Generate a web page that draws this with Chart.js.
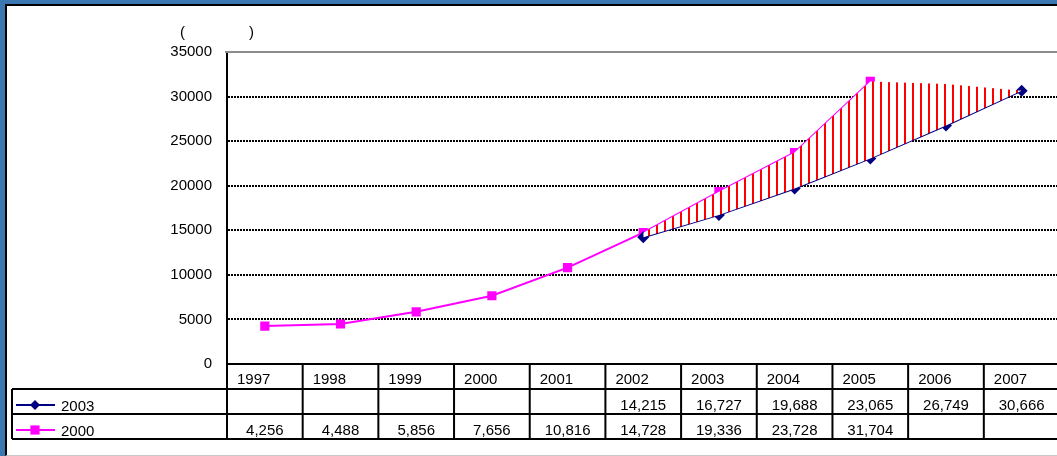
<!DOCTYPE html>
<html>
<head>
<meta charset="utf-8">
<script src="https://cdn.jsdelivr.net/npm/chart.js@4"></script>
<style>
  html, body { margin: 0; padding: 0; }
  body { width: 1057px; height: 456px; overflow: hidden; background: #3b77b1; position: relative; }
  #frame { position: absolute; left: 5px; top: 4px; width: 1060px; height: 449px; background: #fff;
           border-left: 2px solid #000; border-top: 2px solid #000; border-bottom: 1px solid #c8c8c8; }
  #c { position: absolute; left: 0; top: 0; }
</style>
</head>
<body>
<div id="frame"></div>
<canvas id="c" width="1066" height="456"></canvas>
<script>
const years = ['1997', '1998', '1999', '2000', '2001', '2002', '2003', '2004', '2005', '2006', '2007'];
const series2003 = [null, null, null, null, null, 14215, 16727, 19688, 23065, 26749, 30666];
const series2000 = [4256, 4488, 5856, 7656, 10816, 14728, 19336, 23728, 31704, null, null];
const hatchTop = [null, null, null, null, null, 14728, 19336, 23728, 31704, 31400, 30666];
const yTicks = [0, 5000, 10000, 15000, 20000, 25000, 30000, 35000];

const FONT = 'Liberation Sans, Arial, sans-serif';
const NAVY = '#000080';
const MAGENTA = '#ff00ff';

// white + red vertical stripes
let pc = document.createElement('canvas');
pc.width = 8; pc.height = 8;
let pctx = pc.getContext('2d');
pctx.fillStyle = '#fff';
pctx.fillRect(0, 0, 8, 8);
pctx.fillStyle = '#ff0000';
pctx.fillRect(0, 0, 2, 8);
let hatch = pctx.createPattern(pc, 'repeat');

function fmt(v) {
    return v == null ? '' : v.toLocaleString('en-US');
}

const tablePlugin = {
    id: 'dataTable',
    afterDraw(chart) {
        let ctx = chart.ctx;
        let x = chart.scales.x;
        let area = chart.chartArea;
        let half = (x.getPixelForValue(1) - x.getPixelForValue(0)) / 2;
        let top = area.bottom;
        let rows = [top, top + 25, top + 50, top + 75];
        let right = chart.width;
        let legendLeft = 12;

        ctx.save();
        // top border of plot
        ctx.strokeStyle = '#8c8c8c';
        ctx.lineWidth = 2;
        ctx.beginPath();
        ctx.moveTo(area.left - 2, area.top);
        ctx.lineTo(right, area.top);
        ctx.stroke();

        ctx.strokeStyle = '#000';
        ctx.lineWidth = 2;
        ctx.beginPath();
        ctx.moveTo(area.left, rows[0]);
        ctx.lineTo(right, rows[0]);
        for (let r = 1; r < rows.length; r++) {
            ctx.moveTo(legendLeft, rows[r]);
            ctx.lineTo(right, rows[r]);
        }
        for (let i = 0; i <= years.length; i++) {
            let bx = x.getPixelForValue(i) - half;
            ctx.moveTo(bx, rows[0]);
            ctx.lineTo(bx, rows[3]);
        }
        ctx.moveTo(legendLeft, rows[1]);
        ctx.lineTo(legendLeft, rows[3]);
        ctx.stroke();

        ctx.fillStyle = '#000';
        ctx.font = '15px ' + FONT;
        ctx.textBaseline = 'alphabetic';
        years.forEach((y, i) => {
            let cx = x.getPixelForValue(i);
            ctx.textAlign = 'left';
            ctx.fillText(y, cx - half + 10, rows[0] + 20);
            ctx.textAlign = 'center';
            ctx.fillText(fmt(series2003[i]), cx, rows[1] + 21);
            ctx.fillText(fmt(series2000[i]), cx, rows[2] + 21);
        });

        // legend keys inside the table
        let keys = [
            {label: '2003', color: NAVY, style: 'rectRot', radius: 5, row: 1},
            {label: '2000', color: MAGENTA, style: 'rect', radius: 6.5, row: 2}
        ];
        keys.forEach(k => {
            let ly = rows[k.row] + 16;
            ctx.strokeStyle = k.color;
            ctx.lineWidth = 2;
            ctx.beginPath();
            ctx.moveTo(16, ly);
            ctx.lineTo(55, ly);
            ctx.stroke();
            ctx.fillStyle = k.color;
            Chart.helpers.drawPoint(ctx, {pointStyle: k.style, radius: k.radius, borderWidth: 0}, 35, ly);
            ctx.fillStyle = '#000';
            ctx.textAlign = 'left';
            ctx.fillText(k.label, 61, rows[k.row] + 22);
        });

        // unit label above the axis
        ctx.textAlign = 'left';
        ctx.fillText('(', 180, 37);
        ctx.fillText(')', 249, 37);
        ctx.restore();
    }
};

let ctx = document.getElementById('c').getContext('2d');
let myChart = new Chart(ctx, {
    type: 'line',
    data: {
        labels: years,
        datasets: [
            {
                label: '2003',
                data: series2003,
                borderColor: NAVY,
                backgroundColor: NAVY,
                borderWidth: 2,
                pointStyle: 'rectRot',
                pointRadius: 6,
                pointBorderWidth: 0,
                fill: false,
                spanGaps: false
            },
            {
                label: '2000',
                data: series2000,
                borderColor: MAGENTA,
                backgroundColor: MAGENTA,
                borderWidth: 2,
                pointStyle: 'rect',
                pointRadius: 6.5,
                pointBorderWidth: 0,
                fill: false
            },
            {
                label: 'band',
                data: hatchTop,
                borderWidth: 0,
                borderColor: 'rgba(0,0,0,0)',
                pointRadius: 0,
                backgroundColor: hatch,
                fill: 0,
                order: -1
            }
        ]
    },
    options: {
        responsive: false,
        animation: false,
        layout: {padding: {top: 52, left: 0, right: 0, bottom: 0}},
        plugins: {
            legend: {display: false},
            tooltip: {enabled: false},
            filler: {drawTime: 'beforeDatasetDraw'}
        },
        scales: {
            x: {
                type: 'category',
                offset: true,
                ticks: {display: false},
                grid: {display: false},
                border: {display: false},
                afterFit: s => { s.height = 92; }
            },
            y: {
                min: 0,
                max: 35000,
                afterBuildTicks: s => { s.ticks = yTicks.map(v => ({value: v})); },
                afterFit: s => { s.width = 227; },
                ticks: {
                    padding: 15,
                    color: '#000',
                    font: {family: FONT, size: 15},
                    callback: v => String(v)
                },
                grid: {
                    drawTicks: false,
                    color: c => (c.tick && (c.tick.value === 35000 || c.tick.value === 0)) ? 'rgba(0,0,0,0)' : '#000',
                    lineWidth: 2
                },
                border: {color: '#000', width: 2, dash: [2, 1]}
            }
        }
    },
    plugins: [tablePlugin]
});
</script>
</body>
</html>
